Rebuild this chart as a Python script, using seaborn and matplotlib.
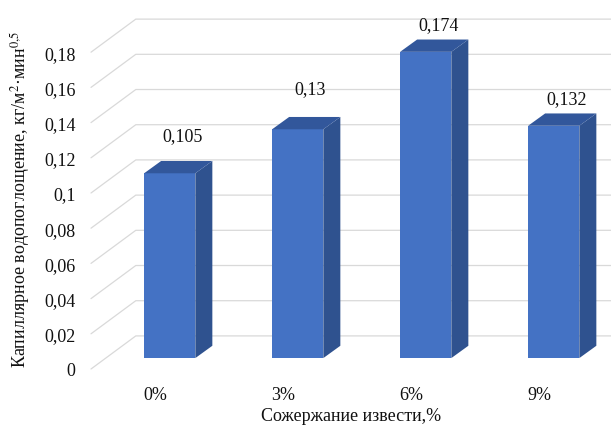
import matplotlib
matplotlib.use('Agg')
import matplotlib.pyplot as plt
import seaborn as sns
from matplotlib.patches import Polygon

# data
categories = ['0%', '3%', '6%', '9%']
values = [0.105, 0.13, 0.174, 0.132]
value_labels = ['0,105', '0,13', '0,174', '0,132']
yticks = [0, 0.02, 0.04, 0.06, 0.08, 0.1, 0.12, 0.14, 0.16, 0.18]
ytick_labels = ['0', '0,02', '0,04', '0,06', '0,08', '0,1', '0,12', '0,14', '0,16', '0,18']

sns.set_style('white')
plt.rcParams['font.family'] = ['Liberation Serif', 'DejaVu Serif']
plt.rcParams['mathtext.fontset'] = 'stix'

front_c = '#4472C4'
side_c = '#2F528F'
top_c = '#32579B'
grid_c = '#D9D9D9'
txt_c = '#111111'

# 3d look: depth offsets in data units
floor_dx, floor_dy = 0.35, 0.0188   # full floor depth
bar_dx0, bar_dy0 = 0.115, 0.0062    # front face of bars
bar_ddx, bar_ddy = 0.133, 0.0070    # depth of a bar
# gap between top of a bar and its value label (excel placed them unevenly)
label_gap = [0.0142, 0.0159, 0.0085, 0.0085]

fig = plt.figure(figsize=(6.11, 4.27), dpi=100)
ax = fig.add_axes([91 / 611, 1 - 370 / 427, 520 / 611, 370 / 427])

# side wall / back wall gridlines
for v in yticks:
    ax.plot([-0.5, -0.5 + floor_dx, 4.0], [v, v + floor_dy, v + floor_dy],
            color=grid_c, lw=0.9, zorder=0, clip_on=False)

sns.barplot(x=categories, y=values, width=0.4, color=front_c, saturation=1, ax=ax, zorder=3)

for p, lab, gap in zip(ax.patches, value_labels, label_gap):
    x0 = p.get_x() + bar_dx0
    w = p.get_width()
    p.set_x(x0)
    p.set_y(bar_dy0)
    p.set_edgecolor('none')
    y0 = bar_dy0
    y1 = bar_dy0 + p.get_height()
    side = Polygon([(x0 + w, y0), (x0 + w + bar_ddx, y0 + bar_ddy),
                    (x0 + w + bar_ddx, y1 + bar_ddy), (x0 + w, y1)],
                   closed=True, facecolor=side_c, edgecolor='none', zorder=3)
    top = Polygon([(x0, y1), (x0 + bar_ddx, y1 + bar_ddy),
                   (x0 + w + bar_ddx, y1 + bar_ddy), (x0 + w, y1)],
                  closed=True, facecolor=top_c, edgecolor='none', zorder=3)
    ax.add_patch(side)
    ax.add_patch(top)
    ax.text(x0 + w / 2 + 0.1, y1 + bar_ddy + gap, lab, ha='center', va='center',
            fontsize=13, color=txt_c)

ax.set_xlim(-0.5, 456 / 128)
ax.set_ylim(0, 370 / 1760)
ax.set_yticks(yticks, ytick_labels)
ax.tick_params(axis='y', length=0, labelsize=13, pad=11, labelcolor=txt_c)
ax.tick_params(axis='x', length=0, labelsize=13, pad=12, labelcolor=txt_c)
for s in ax.spines.values():
    s.set_visible(False)

ax.set_xlabel('Сожержание извести,%', fontsize=13, color=txt_c, labelpad=3)
ax.set_ylabel(r'Капиллярное водопоглощение, кг/м$^2$·мин$^{0{,}5}$',
              fontsize=13, color=txt_c)
ax.yaxis.set_label_coords(-0.113, 0.46)

fig.savefig('out.png', dpi=100)
